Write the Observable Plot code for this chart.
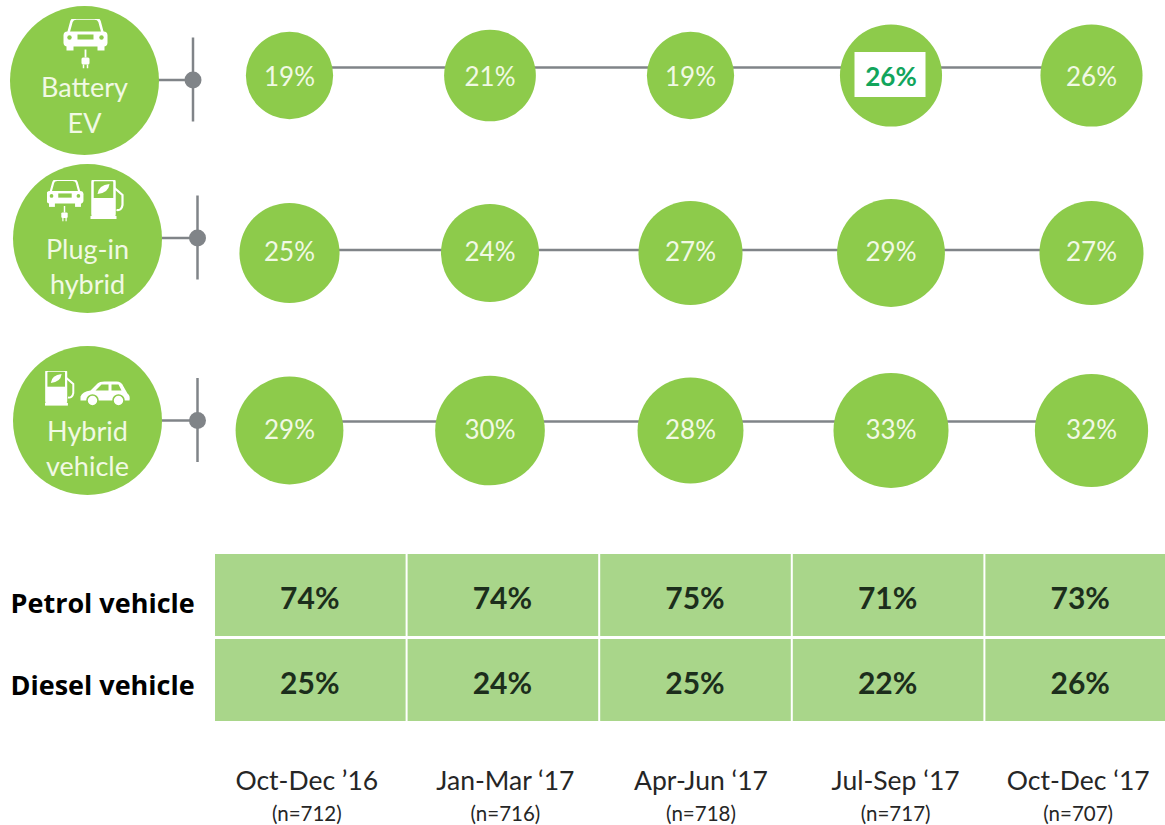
<!DOCTYPE html>
<html>
<head>
<meta charset="utf-8">
<script src="https://cdn.jsdelivr.net/npm/d3@7"></script>
<script src="https://cdn.jsdelivr.net/npm/@observablehq/plot@0.6"></script>
<style>
html,body{margin:0;padding:0;background:#fff;width:1165px;height:825px;overflow:hidden}
svg{display:block}
</style>
</head>
<body>
<div id="chart"></div>
<script>
const quarters = ["Oct-Dec ’16","Jan-Mar ‘17","Apr-Jun ‘17","Jul-Sep ‘17","Oct-Dec ‘17"];
const sampleSizes = ["(n=712)","(n=716)","(n=718)","(n=717)","(n=707)"];
const rowLabels = ["Battery\nEV","Plug-in\nhybrid","Hybrid\nvehicle"];
const batteryEV = [19,21,19,26,26];
const plugInHybrid = [25,24,27,29,27];
const hybridVehicle = [29,30,28,33,32];
const petrolVehicle = [74,74,75,71,73];
const dieselVehicle = [25,24,25,22,26];
const tableRows = ["Petrol vehicle","Diesel vehicle"];

const GREEN="#8dcb4b", GREY="#808488", PALE="#f1f9e4", CELL="#a9d68a", FONT="Lato, 'Open Sans', sans-serif", BOLD="'Open Sans', Lato, sans-serif";

/* icons (white glyphs, green cut-outs) */
const carFront=(x,y,s)=>`<g transform="translate(${x} ${y}) scale(${s})"><path d="M5 14 L8 3 Q9 0 13 0 H31 Q35 0 36 3 L39 14" fill="none" stroke="#fff" stroke-width="2.6"/><rect x="0" y="13" width="44" height="15" rx="4" fill="#fff"/><rect x="3" y="27" width="7" height="5" fill="#fff"/><rect x="34" y="27" width="7" height="5" fill="#fff"/><rect x="14" y="16" width="16" height="5" fill="${GREEN}"/><circle cx="6" cy="19" r="2.2" fill="${GREEN}"/><circle cx="38" cy="19" r="2.2" fill="${GREEN}"/></g>`;
const plug=(x,y,s)=>`<g transform="translate(${x} ${y}) scale(${s})"><path d="M0 0 V8" stroke="#fff" stroke-width="1.8"/><rect x="-4" y="8" width="8" height="7" rx="1.5" fill="#fff"/><path d="M-2 15 V19 M2 15 V19" stroke="#fff" stroke-width="1.5"/></g>`;
const pump=(x,y,s)=>`<g transform="translate(${x} ${y}) scale(${s})"><rect x="2" y="0" width="22" height="36" rx="2" fill="none" stroke="#fff" stroke-width="2.5"/><rect x="2" y="18" width="22" height="18" fill="#fff"/><path d="M7 14 Q8 5 19 4 Q18 13 7 14Z" fill="#fff"/><rect x="0" y="36" width="26" height="3" fill="#fff"/><path d="M24 8 L32 15 V25 Q31 31 26 30" fill="none" stroke="#fff" stroke-width="2.2"/></g>`;
const carSide=(x,y,s)=>`<g transform="translate(${x} ${y}) scale(${s})"><path d="M0 15 Q2 10 10 9 L17 2 Q19 0 24 0 H36 Q41 0 43 5 L47 12 Q50 14 49 19 H0Z" fill="#fff"/><path d="M15 9 L21 3 H28 V9Z M31 3 H38 L41 9 H31Z" fill="${GREEN}"/><circle cx="12" cy="19" r="5.5" fill="#fff" stroke="${GREEN}" stroke-width="1.6"/><circle cx="38" cy="19" r="5.5" fill="#fff" stroke="${GREEN}" stroke-width="1.6"/></g>`;
const uri=(w,h,body)=>"data:image/svg+xml,"+encodeURIComponent(`<svg xmlns="http://www.w3.org/2000/svg" width="${w}" height="${h}" viewBox="0 0 ${w} ${h}">${body}</svg>`);
const rowIcons=[
  {src:uri(50,50,carFront(3,0,1)+plug(25,31,1)),w:50,h:50,dx:-204,dy:-32},
  {src:uri(84,44,carFront(0,0,.84)+plug(18,26,.8)+pump(44,0,1)),w:84,h:44,dx:-201,dy:-51},
  {src:uri(88,36,pump(0,0,.9)+carSide(36,11,1)),w:88,h:36,dx:-201,dy:-42}
];

/* per-row layout offsets from the first column / row centre, in pixels */
const rowLayout=[
  {head:-205,spine:-96.5,dy:4.5,line:-8,text:2,label:28},
  {head:-202,spine:-92,dy:-15,line:-3,text:0,label:12},
  {head:-202,spine:-92,dy:-10,line:-9,text:0,label:16.5}
];
const series=[batteryEV,plugInHybrid,hybridVehicle];

const bubbles=series.flatMap((vals,row)=>vals.map((v,q)=>({row,q,v,flag:row===0&&q===3})));

const bubbleChart=Plot.plot({
  width:1165,height:510,margin:0,
  style:{fontFamily:FONT,background:"#fff"},
  x:{axis:null,domain:[0,4],range:[289,1091]},
  y:{axis:null,domain:[0,2],range:[75,430]},
  r:{type:"sqrt",domain:[0,33],range:[0,57.5]},
  marks:[
    ...series.flatMap((_,row)=>{
      const L=rowLayout[row], I=rowIcons[row];
      return [
        Plot.ruleY([row],{y:row,x1:0,x2:4,dy:L.line,stroke:GREY,strokeWidth:2.5}),
        Plot.ruleY([row],{y:row,x1:0,x2:0,dx:L.spine,dy:L.dy,insetLeft:-35,stroke:GREY,strokeWidth:2.5}),
        Plot.ruleX([row],{x:0,y1:row,y2:row,dx:L.spine,dy:L.dy,insetTop:-42,insetBottom:-42,stroke:GREY,strokeWidth:2.5}),
        Plot.dot([row],{x:0,y:row,dx:L.spine,dy:L.dy,r:8.5,fill:GREY}),
        Plot.dot([row],{x:0,y:row,dx:L.head,dy:row===0?5:(row===1?-14.5:-10),r:74.5,fill:GREEN}),
        Plot.image([row],{x:0,y:row,dx:I.dx,dy:I.dy,src:()=>I.src,width:I.w,height:I.h}),
        Plot.text([rowLabels[row]],{x:0,y:row,dx:L.head,dy:L.label,text:d=>d,fontSize:27,lineHeight:1.32,fill:PALE,textAnchor:"middle"})
      ];
    }),
    Plot.dot(bubbles,{x:"q",y:"row",r:"v",fill:GREEN}),
    Plot.rect(bubbles.filter(d=>d.flag),{x1:"q",x2:"q",y1:"row",y2:"row",insetLeft:-36,insetRight:-35,insetTop:-23,insetBottom:-22,fill:"#fff"}),
    ...series.map((_,row)=>Plot.text(bubbles.filter(d=>d.row===row&&!d.flag),{x:"q",y:"row",dy:rowLayout[row].text,text:d=>`${d.v}%`,fontSize:26,fill:PALE})),
    Plot.text(bubbles.filter(d=>d.flag),{x:"q",y:"row",dy:2,text:d=>`${d.v}%`,fontSize:26,fontWeight:700,fill:"#12a55c"})
  ]
});

const cells=[petrolVehicle,dieselVehicle].flatMap((vals,r)=>vals.map((v,q)=>({row:tableRows[r],quarter:quarters[q],v})));
const labelNudge=[-4,2,5,7,-3];

const tableChart=Plot.plot({
  width:1165,height:315,margin:0,
  style:{fontFamily:FONT,background:"#fff"},
  x:{axis:null,type:"band",domain:quarters,range:[214,1177],padding:0,round:false},
  y:{axis:null,type:"band",domain:tableRows,range:[44,214],padding:0,round:false},
  marks:[
    Plot.cell(cells,{x:"quarter",y:"row",fill:CELL,insetRight:1,insetLeft:1,insetBottom:3,clip:true}),
    Plot.text(cells,{x:"quarter",y:"row",dx:-1,dy:2,text:d=>`${d.v}%`,fontSize:30,fontWeight:700,fill:"#1c2e1c"}),
    Plot.text([tableRows[0]],{y:d=>d,text:d=>d,frameAnchor:"left",textAnchor:"start",dx:10,dy:7,fontFamily:BOLD,fontSize:27,fontWeight:700,fill:"#000"}),
    Plot.text([tableRows[1]],{y:d=>d,text:d=>d,frameAnchor:"left",textAnchor:"start",dx:10,dy:4,fontFamily:BOLD,fontSize:27,fontWeight:700,fill:"#000"}),
    ...quarters.map((q,i)=>Plot.text([q],{x:d=>d,text:d=>d,frameAnchor:"bottom",lineAnchor:"middle",dx:labelNudge[i],dy:-44,fontSize:26.5,fill:"#262626"})),
    ...quarters.map((q,i)=>Plot.text([sampleSizes[i]],{x:()=>q,text:d=>d,frameAnchor:"bottom",lineAnchor:"middle",dx:labelNudge[i],dy:-11,fontSize:20.5,fill:"#262626"}))
  ]
});

document.getElementById("chart").append(bubbleChart,tableChart);
</script>
</body>
</html>
